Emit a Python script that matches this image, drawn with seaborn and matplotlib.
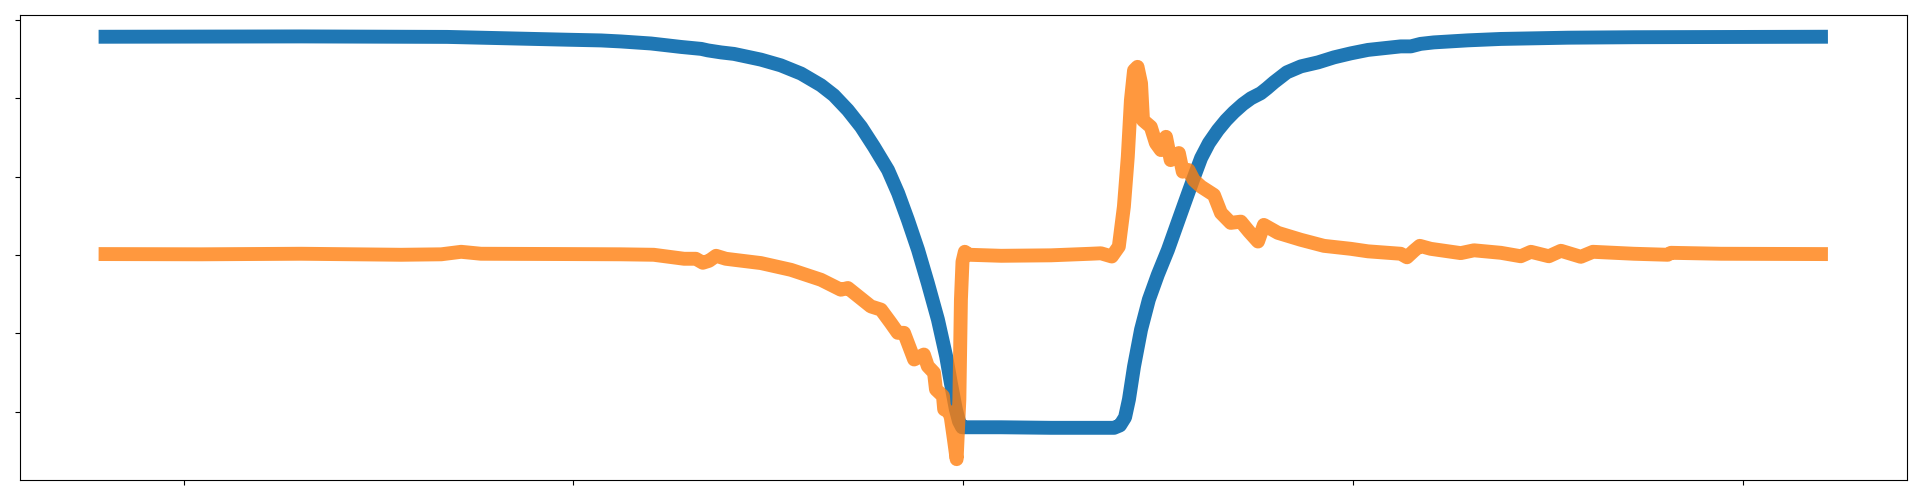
import matplotlib
matplotlib.use("Agg")
import matplotlib.pyplot as plt
import matplotlib.ticker as mtick
import seaborn as sns

# curva azul (x, y)
blue_x = [-2.2, -1.698, -1.324, -1.014, -0.929, -0.878, -0.801, -0.757, -0.724, -0.672,
          -0.655, -0.621, -0.588, -0.519, -0.468, -0.416, -0.365, -0.332, -0.296, -0.262,
          -0.229, -0.193, -0.167, -0.142, -0.116, -0.091, -0.065, -0.044, -0.032, -0.019,
          -0.011, -0.003, 0.097, 0.225, 0.353, 0.387, 0.402, 0.415, 0.425, 0.438,
          0.456, 0.476, 0.499, 0.525, 0.545, 0.566, 0.589, 0.610, 0.630, 0.653,
          0.674, 0.694, 0.717, 0.738, 0.763, 0.779, 0.797, 0.830, 0.866, 0.910,
          0.951, 0.994, 1.038, 1.122, 1.148, 1.173, 1.207, 1.294, 1.379, 1.551,
          1.720, 2.2]
blue_y = [2.786, 2.790, 2.784, 2.748, 2.739, 2.726, 2.700, 2.675, 2.656, 2.631,
          2.612, 2.586, 2.567, 2.494, 2.421, 2.316, 2.167, 2.039, 1.850, 1.636,
          1.382, 1.085, 0.789, 0.449, 0.067, -0.356, -0.823, -1.290, -1.628, -1.968,
          -2.121, -2.197, -2.197, -2.204, -2.204, -2.204, -2.173, -2.070, -1.841, -1.421,
          -0.951, -0.569, -0.251, 0.067, 0.347, 0.640, 0.958, 1.238, 1.429, 1.594,
          1.721, 1.823, 1.925, 2.001, 2.065, 2.128, 2.205, 2.332, 2.408, 2.459,
          2.523, 2.574, 2.618, 2.663, 2.663, 2.695, 2.714, 2.740, 2.758, 2.774,
          2.780, 2.786]

# curva laranja (x, y)
orange_x = [-2.2, -1.955, -1.698, -1.442, -1.339, -1.288, -1.237, -1.014, -0.878, -0.794,
            -0.716, -0.686, -0.668, -0.652, -0.634, -0.609, -0.588, -0.519, -0.442, -0.365,
            -0.314, -0.296, -0.237, -0.211, -0.186, -0.168, -0.152, -0.126, -0.101, -0.091,
            -0.075, -0.070, -0.052, -0.049, -0.037, -0.032, -0.024, -0.017, -0.010, -0.006,
            -0.002, 0.004, 0.015, 0.097, 0.225, 0.327, 0.353, 0.381, 0.399, 0.412,
            0.422, 0.430, 0.438, 0.447, 0.456, 0.461, 0.481, 0.494, 0.507, 0.520,
            0.532, 0.553, 0.563, 0.578, 0.591, 0.610, 0.643, 0.661, 0.686, 0.712,
            0.733, 0.756, 0.771, 0.807, 0.866, 0.925, 0.994, 1.038, 1.122, 1.138,
            1.156, 1.171, 1.199, 1.276, 1.310, 1.379, 1.430, 1.456, 1.502, 1.533,
            1.584, 1.615, 1.720, 1.807, 1.815, 1.943, 2.2]
orange_y = [0.013, 0.010, 0.017, 0.004, 0.010, 0.042, 0.017, 0.013, 0.010, 0.004,
            -0.047, -0.047, -0.098, -0.073, -0.009, -0.047, -0.060, -0.102, -0.188, -0.315,
            -0.442, -0.420, -0.655, -0.696, -0.865, -0.992, -0.992, -1.332, -1.269, -1.417,
            -1.501, -1.714, -1.799, -1.968, -2.000, -2.070, -2.350, -2.604, -1.841, -0.569,
            -0.085, 0.042, 0.004, -0.009, -0.003, 0.017, 0.023, -0.018, 0.109, 0.618,
            1.254, 1.976, 2.357, 2.402, 2.192, 1.721, 1.636, 1.429, 1.340, 1.509,
            1.212, 1.302, 1.064, 1.085, 0.958, 0.873, 0.767, 0.538, 0.411, 0.427,
            0.300, 0.173, 0.385, 0.284, 0.195, 0.118, 0.080, 0.048, 0.017, -0.028,
            0.055, 0.118, 0.080, 0.025, 0.061, 0.029, -0.015, 0.042, -0.015, 0.055,
            -0.022, 0.042, 0.017, 0.004, 0.029, 0.017, 0.013]

fig = plt.figure(figsize=(19.2, 5), dpi=100)
ax = fig.add_axes([0.0103, 0.0394, 0.9828, 0.93])

sns.lineplot(x=blue_x, y=blue_y, ax=ax, color="C0", linewidth=10,
             estimator=None, sort=False, solid_capstyle="projecting")
sns.lineplot(x=orange_x, y=orange_y, ax=ax, color="C1", alpha=0.8, linewidth=10,
             estimator=None, sort=False, solid_capstyle="projecting")

ax.xaxis.set_major_locator(mtick.MultipleLocator(1.0))
ax.yaxis.set_major_locator(mtick.MultipleLocator(1.0))
ax.tick_params(labelbottom=False, labelleft=False)
ax.set_xlabel("")
ax.set_ylabel("")

fig.savefig("out.png", dpi=100)
